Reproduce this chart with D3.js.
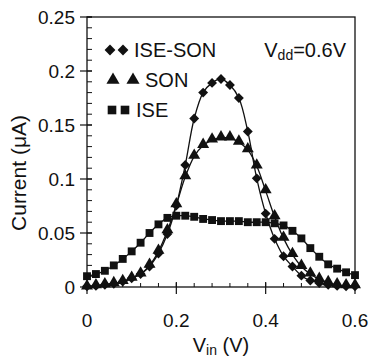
<!DOCTYPE html>
<html>
<head>
<meta charset="utf-8">
<script src="https://cdn.jsdelivr.net/npm/d3@7"></script>
<style>
  html, body { margin: 0; padding: 0; background: #fff; overflow: hidden; }
  svg { display: block; }
</style>
</head>
<body>
<div id="chart"></div>
<script>
// input voltage, 0 to 0.6 V in 0.02 V steps
const vin = d3.range(31).map(i => +(i * 0.02).toFixed(2));

const iseSon = [0.0006, 0.001, 0.002, 0.003, 0.005, 0.008, 0.012, 0.019, 0.031, 0.049,
  0.0755, 0.113, 0.156, 0.180, 0.189, 0.1926, 0.187, 0.175, 0.144, 0.1006,
  0.068, 0.0446, 0.0285, 0.019, 0.0105, 0.006, 0.0037, 0.002, 0.001, 0.0006, 0.0006];

const son = [0.000, 0.001, 0.002, 0.003, 0.005, 0.008, 0.012, 0.020, 0.033, 0.052,
  0.076, 0.102, 0.121, 0.131, 0.136, 0.138, 0.138, 0.134, 0.127, 0.112,
  0.089, 0.065, 0.045, 0.030, 0.019, 0.012, 0.007, 0.004, 0.002, 0.001, 0.001];

const ise = [0.010, 0.012, 0.015, 0.020, 0.026, 0.033, 0.041, 0.050, 0.058, 0.064,
  0.066, 0.066, 0.065, 0.063, 0.062, 0.061, 0.061, 0.061, 0.060, 0.060,
  0.060, 0.059, 0.057, 0.052, 0.045, 0.036, 0.028, 0.021, 0.017, 0.0136, 0.011];

const xTicks = [0, 0.2, 0.4, 0.6];
const xMinor = d3.range(16).map(i => +(i * 0.04).toFixed(2));
const yTicks = [0, 0.05, 0.1, 0.15, 0.2, 0.25];
const yMinor = d3.range(26).map(i => +(i * 0.01).toFixed(2));

const series = [
  { name: 'ISE-SON', values: iseSon, shape: 'diamond' },
  { name: 'SON', values: son, shape: 'triangle' },
  { name: 'ISE', values: ise, shape: 'square' }
];

const font = 'Liberation Sans';
const width = 369, height = 361;
const margin = { top: 17, right: 14, bottom: 74, left: 87 };
const innerWidth = width - margin.left - margin.right;
const innerHeight = height - margin.top - margin.bottom;

const svg = d3.select('#chart').append('svg')
  .attr('width', width)
  .attr('height', height)
  .attr('font-family', font);

const g = svg.append('g')
  .attr('transform', `translate(${margin.left}, ${margin.top})`);

const xScale = d3.scaleLinear().domain([0, 0.6]).range([0, innerWidth]);
const yScale = d3.scaleLinear().domain([0, 0.25]).range([innerHeight, 0]);

const symbolFor = (shape, big) => {
  const k = big ? 1.2 : 1;
  if (shape === 'diamond') return d3.symbol().type(d3.symbolDiamond2).size(62 * k);
  if (shape === 'triangle') return d3.symbol().type(d3.symbolTriangle).size(62 * k);
  return d3.symbol().type(d3.symbolSquare).size(62 * k);
};

// lines and markers
const line = d3.line()
  .x((d, i) => xScale(vin[i]))
  .y(d => yScale(d))
  .curve(d3.curveCatmullRom);

series.forEach(s => {
  g.append('path')
    .attr('d', line(s.values))
    .attr('fill', 'none')
    .attr('stroke', '#111')
    .attr('stroke-width', 1.3);
});

series.slice().reverse().forEach(s => {
  const sym = symbolFor(s.shape, false);
  g.append('g').selectAll('path').data(s.values).enter().append('path')
    .attr('transform', (d, i) => `translate(${xScale(vin[i])}, ${yScale(d) - (s.shape === 'triangle' ? 1 : 0)})`)
    .attr('d', sym())
    .attr('fill', '#111');
});

// axes frame
g.append('rect')
  .attr('width', innerWidth)
  .attr('height', innerHeight)
  .attr('fill', 'none')
  .attr('stroke', '#111')
  .attr('stroke-width', 1.3);

// y axis: major ticks outside, minor ticks inside
g.append('g').selectAll('line').data(yTicks).enter().append('line')
  .attr('x1', -7).attr('x2', 5)
  .attr('y1', d => yScale(d)).attr('y2', d => yScale(d))
  .attr('stroke', '#111').attr('stroke-width', 1.2);

g.append('g').selectAll('text').data(yTicks).enter().append('text')
  .attr('x', -12)
  .attr('y', d => yScale(d))
  .attr('dy', '0.35em')
  .attr('text-anchor', 'end')
  .attr('font-size', 19)
  .attr('fill', '#111')
  .text(d => String(+d.toFixed(2)));

g.append('g').selectAll('line').data(yMinor).enter().append('line')
  .attr('x1', 0).attr('x2', 5)
  .attr('y1', d => yScale(d)).attr('y2', d => yScale(d))
  .attr('stroke', '#111').attr('stroke-width', 1);

// x axis
g.append('g').selectAll('line').data(xTicks).enter().append('line')
  .attr('x1', d => xScale(d)).attr('x2', d => xScale(d))
  .attr('y1', innerHeight - 5).attr('y2', innerHeight + 7)
  .attr('stroke', '#111').attr('stroke-width', 1.2);

g.append('g').selectAll('text').data(xTicks).enter().append('text')
  .attr('x', d => xScale(d))
  .attr('y', innerHeight + 40)
  .attr('text-anchor', 'middle')
  .attr('font-size', 19)
  .attr('fill', '#111')
  .text(d => String(d));

g.append('g').selectAll('line').data(xMinor).enter().append('line')
  .attr('x1', d => xScale(d)).attr('x2', d => xScale(d))
  .attr('y1', innerHeight).attr('y2', innerHeight - 4)
  .attr('stroke', '#111').attr('stroke-width', 1);

// axis labels
const xLabel = svg.append('text')
  .attr('x', margin.left + innerWidth / 2)
  .attr('y', 352)
  .attr('text-anchor', 'middle')
  .attr('font-size', 20)
  .attr('fill', '#111');
xLabel.append('tspan').text('V');
xLabel.append('tspan').attr('font-size', 14).attr('dy', 3).text('in');
xLabel.append('tspan').attr('dy', -3).text(' (V)');

svg.append('text')
  .attr('transform', `translate(26, 173) rotate(-90)`)
  .attr('text-anchor', 'middle')
  .attr('font-size', 21)
  .attr('fill', '#111')
  .text('Current (μA)');

// Vdd annotation
const vdd = svg.append('text')
  .attr('x', 346)
  .attr('y', 57)
  .attr('text-anchor', 'end')
  .attr('font-size', 20)
  .attr('fill', '#111');
vdd.append('tspan').text('V');
vdd.append('tspan').attr('font-size', 14).attr('dy', 3).text('dd');
vdd.append('tspan').attr('dy', -3).text('=0.6V');

// legend
const legendRows = [
  { name: 'ISE-SON', shape: 'diamond', y: 50, mx: [110, 123], tx: 134 },
  { name: 'SON', shape: 'triangle', y: 80, mx: [113, 133], tx: 145 },
  { name: 'ISE', shape: 'square', y: 110, mx: [112, 125], tx: 136 }
];
legendRows.forEach(r => {
  const sym = symbolFor(r.shape, true);
  r.mx.forEach(x => {
    svg.append('path')
      .attr('transform', `translate(${x}, ${r.y})`)
      .attr('d', sym())
      .attr('fill', '#111');
  });
  svg.append('text')
    .attr('x', r.tx)
    .attr('y', r.y + 7)
    .attr('font-size', 20)
    .attr('fill', '#111')
    .text(r.name);
});
</script>
</body>
</html>
